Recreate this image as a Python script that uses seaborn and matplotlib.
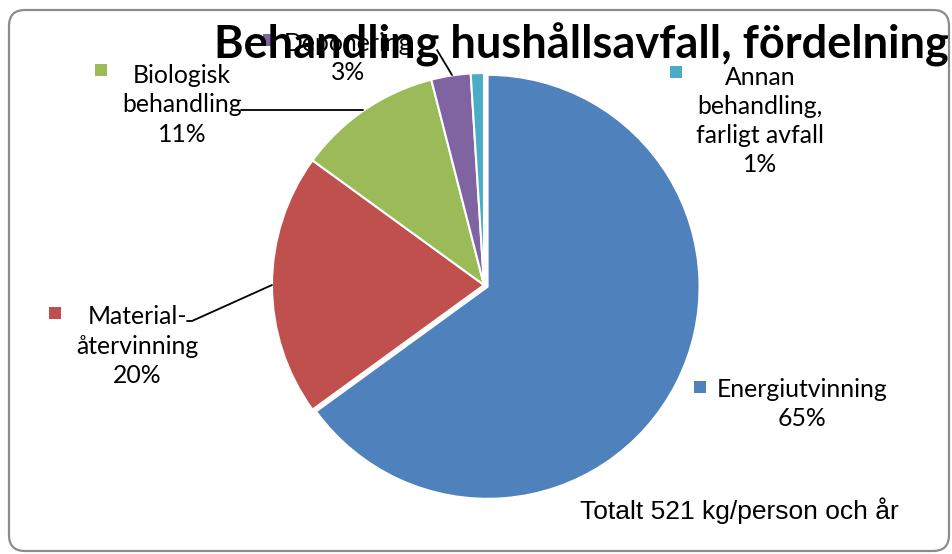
import matplotlib
matplotlib.use("Agg")
import matplotlib.pyplot as plt
import seaborn as sns
from matplotlib.patches import FancyBboxPatch

sns.set_theme(style="white")
plt.rcParams["font.family"] = ["Lato", "DejaVu Sans"]

# data
kategorier = ["Energiutvinning", "Material-\nåtervinning", "Biologisk\nbehandling",
              "Deponering", "Annan\nbehandling,\nfarligt avfall"]
andel = [65, 20, 11, 3, 1]
farger = ["#4F81BD", "#C0504D", "#9BBB59", "#8064A2", "#4BACC6"]
titel = "Behandling hushållsavfall, fördelning"
totalt = "Totalt 521 kg/person och år"

W, H = 952, 554
fig = plt.figure(figsize=(W / 100, H / 100), dpi=100)
ax = fig.add_axes([0, 0, 1, 1])

# ram med rundade horn
fig.patches.append(FancyBboxPatch((9, 3), W - 12, H - 13, boxstyle="round,pad=0,rounding_size=16",
                                  transform=None, fill=False, ec="#8c8c8c", lw=1.6))

ax.pie(andel, colors=farger, startangle=90, counterclock=False, radius=212,
       center=(484, H - 285), explode=[4, 0, 0, 0, 0], frame=True,
       wedgeprops=dict(edgecolor="white", linewidth=1.5))
ax.set_xlim(0, W)
ax.set_ylim(0, H)
ax.set_aspect("equal")
ax.axis("off")

# etiketter: (ruta x, ruta y, text x, text mitt y)
lägen = [(700, 387, 802, 404),
         (55, 313, 137, 346),
         (101, 70, 182, 105),
         (269, 40, 348, 58),
         (676, 72, 760, 121)]
for namn, v, f, (qx, qy, tx, ty) in zip(kategorier, andel, farger, lägen):
    ax.scatter([qx], [H - qy], marker="s", s=82, color=f, linewidths=0, zorder=3)
    ax.text(tx, H - ty, f"{namn}\n{v}%", ha="center", va="center", fontsize=17.8,
            linespacing=1.33, color="black", zorder=3)

# hänvisningslinjer
ax.plot([241, 363], [H - 110, H - 110], color="black", lw=1.3, zorder=2)
ax.plot([187, 192, 272], [H - 321, H - 321, H - 285], color="black", lw=1.3, zorder=2)
ax.plot([437, 452], [H - 50, H - 75], color="black", lw=1.3, zorder=2)

ax.text(581, H - 45, titel, ha="center", va="center", fontsize=32.5,
        fontweight="bold", color="black", zorder=5)
ax.text(580, H - 511, totalt, ha="left", va="center", fontsize=19,
        family=["Liberation Sans", "DejaVu Sans"], color="black")

fig.savefig("out.png", dpi=100)
